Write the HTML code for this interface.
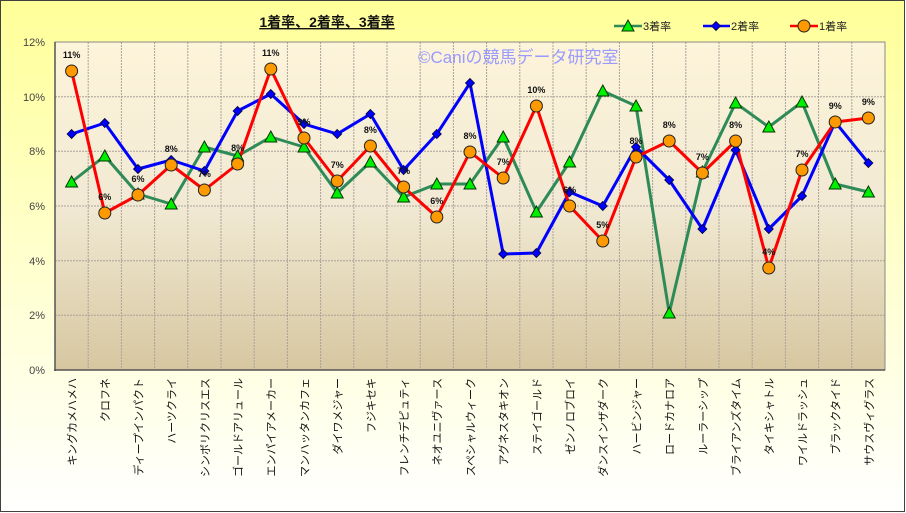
<!DOCTYPE html>
<html><head><meta charset="utf-8"><style>
body{margin:0;width:906px;height:513px;overflow:hidden;background:#fff}
svg{display:block;font-family:"Liberation Sans","Noto Sans CJK JP",sans-serif}
</style></head><body>
<svg width="906" height="513" viewBox="0 0 906 513">
<defs>
<linearGradient id="bg" x1="0" y1="0" x2="0" y2="1"><stop offset="0" stop-color="#fdf4da"/><stop offset="0.5" stop-color="#f1e9d3"/><stop offset="1" stop-color="#d6c7a0"/></linearGradient>
<linearGradient id="ob" x1="0" y1="0" x2="0" y2="1"><stop offset="0" stop-color="#ffff99"/><stop offset="0.45" stop-color="#ffffc8"/><stop offset="1" stop-color="#ffffff"/></linearGradient>
<circle id="c" r="6" fill="#ff9900" stroke="#222" stroke-width="1"/>
<path id="d" d="M0,-4.5 L4.5,0 L0,4.5 L-4.5,0Z" fill="#0000ff" stroke="#000033" stroke-width="0.8"/>
<path id="t" d="M0,-6 L6,5 L-6,5Z" fill="#00ee00" stroke="#003300" stroke-width="1"/>
</defs>
<rect x="0.5" y="0.5" width="904" height="511" fill="url(#ob)" stroke="#404040"/>
<rect x="55" y="42" width="830" height="328" fill="url(#bg)"/>
<g stroke="#aaa29a" stroke-width="1" stroke-dasharray="2,1">
<line x1="55" y1="96.7" x2="885" y2="96.7"/><line x1="55" y1="151.3" x2="885" y2="151.3"/><line x1="55" y1="206" x2="885" y2="206"/><line x1="55" y1="260.7" x2="885" y2="260.7"/><line x1="55" y1="315.3" x2="885" y2="315.3"/>
<line x1="88.2" y1="42" x2="88.2" y2="370"/><line x1="121.4" y1="42" x2="121.4" y2="370"/><line x1="154.6" y1="42" x2="154.6" y2="370"/><line x1="187.8" y1="42" x2="187.8" y2="370"/><line x1="221" y1="42" x2="221" y2="370"/><line x1="254.2" y1="42" x2="254.2" y2="370"/><line x1="287.4" y1="42" x2="287.4" y2="370"/><line x1="320.6" y1="42" x2="320.6" y2="370"/><line x1="353.8" y1="42" x2="353.8" y2="370"/><line x1="387" y1="42" x2="387" y2="370"/><line x1="420.2" y1="42" x2="420.2" y2="370"/><line x1="453.4" y1="42" x2="453.4" y2="370"/><line x1="486.6" y1="42" x2="486.6" y2="370"/><line x1="519.8" y1="42" x2="519.8" y2="370"/><line x1="553" y1="42" x2="553" y2="370"/><line x1="586.2" y1="42" x2="586.2" y2="370"/><line x1="619.4" y1="42" x2="619.4" y2="370"/><line x1="652.6" y1="42" x2="652.6" y2="370"/><line x1="685.8" y1="42" x2="685.8" y2="370"/><line x1="719" y1="42" x2="719" y2="370"/><line x1="752.2" y1="42" x2="752.2" y2="370"/><line x1="785.4" y1="42" x2="785.4" y2="370"/><line x1="818.6" y1="42" x2="818.6" y2="370"/><line x1="851.8" y1="42" x2="851.8" y2="370"/>
</g>
<rect x="55" y="42" width="830" height="328" fill="none" stroke="#888" stroke-width="1"/>
<line x1="55" y1="42" x2="55" y2="371" stroke="#555" stroke-width="1.5"/>
<line x1="54" y1="370" x2="885" y2="370" stroke="#555" stroke-width="1.5"/>
<g font-size="11" fill="#444" text-anchor="end">
<text x="45" y="46">12%</text><text x="45" y="101">10%</text><text x="45" y="155">8%</text><text x="45" y="210">6%</text><text x="45" y="265">4%</text><text x="45" y="319">2%</text><text x="45" y="374">0%</text>
</g>
<text x="327" y="27" font-size="14" font-weight="bold" text-anchor="middle" fill="#111" text-decoration="underline">1着率、2着率、3着率</text>
<text x="418" y="63" font-size="17" fill="#9a9aff">©Caniの競馬データ研究室</text>
<g font-size="11" fill="#222">
<line x1="614" y1="26" x2="642" y2="26" stroke="#2e8b57" stroke-width="2.5"/><use href="#t" x="628" y="26"/><text x="643" y="30">3着率</text>
<line x1="703" y1="26" x2="730" y2="26" stroke="#0000ff" stroke-width="2.5"/><use href="#d" x="716" y="26"/><text x="731" y="30">2着率</text>
<line x1="790" y1="26" x2="818" y2="26" stroke="#ff0000" stroke-width="2.5"/><use href="#c" x="804" y="26"/><text x="819" y="30">1着率</text>
</g>
<polyline fill="none" stroke="#2e8b57" stroke-width="3" stroke-linejoin="round" points="71.6,182 104.8,156 138,194 171.2,204 204.4,147 237.6,156 270.8,137 304,147 337.2,193 370.4,162 403.6,197 436.8,184 470,184 503.2,137 536.4,212 569.6,162 602.8,91 636,106 669.2,313 702.4,172 735.6,103 768.8,127 802,102 835.2,184 868.4,192"/>
<polyline fill="none" stroke="#0000ff" stroke-width="3" stroke-linejoin="round" points="71.6,134 104.8,123 138,169 171.2,160 204.4,171 237.6,111 270.8,94 304,124 337.2,134 370.4,114 403.6,170 436.8,134 470,83 503.2,254 536.4,253 569.6,192 602.8,206 636,147 669.2,180 702.4,229 735.6,150 768.8,229 802,196 835.2,122 868.4,163"/>
<polyline fill="none" stroke="#ff0000" stroke-width="3" stroke-linejoin="round" points="71.6,71 104.8,213 138,195 171.2,165 204.4,190 237.6,164 270.8,69 304,138 337.2,181 370.4,146 403.6,187 436.8,217 470,152 503.2,178 536.4,106 569.6,206 602.8,241 636,157 669.2,141 702.4,173 735.6,141 768.8,268 802,170 835.2,122 868.4,118"/>
<g>
<use href="#t" x="71.6" y="182"/><use href="#t" x="104.8" y="156"/><use href="#t" x="138" y="194"/><use href="#t" x="171.2" y="204"/><use href="#t" x="204.4" y="147"/><use href="#t" x="237.6" y="156"/><use href="#t" x="270.8" y="137"/><use href="#t" x="304" y="147"/><use href="#t" x="337.2" y="193"/><use href="#t" x="370.4" y="162"/><use href="#t" x="403.6" y="197"/><use href="#t" x="436.8" y="184"/><use href="#t" x="470" y="184"/><use href="#t" x="503.2" y="137"/><use href="#t" x="536.4" y="212"/><use href="#t" x="569.6" y="162"/><use href="#t" x="602.8" y="91"/><use href="#t" x="636" y="106"/><use href="#t" x="669.2" y="313"/><use href="#t" x="702.4" y="172"/><use href="#t" x="735.6" y="103"/><use href="#t" x="768.8" y="127"/><use href="#t" x="802" y="102"/><use href="#t" x="835.2" y="184"/><use href="#t" x="868.4" y="192"/>
</g>
<g>
<use href="#d" x="71.6" y="134"/><use href="#d" x="104.8" y="123"/><use href="#d" x="138" y="169"/><use href="#d" x="171.2" y="160"/><use href="#d" x="204.4" y="171"/><use href="#d" x="237.6" y="111"/><use href="#d" x="270.8" y="94"/><use href="#d" x="304" y="124"/><use href="#d" x="337.2" y="134"/><use href="#d" x="370.4" y="114"/><use href="#d" x="403.6" y="170"/><use href="#d" x="436.8" y="134"/><use href="#d" x="470" y="83"/><use href="#d" x="503.2" y="254"/><use href="#d" x="536.4" y="253"/><use href="#d" x="569.6" y="192"/><use href="#d" x="602.8" y="206"/><use href="#d" x="636" y="147"/><use href="#d" x="669.2" y="180"/><use href="#d" x="702.4" y="229"/><use href="#d" x="735.6" y="150"/><use href="#d" x="768.8" y="229"/><use href="#d" x="802" y="196"/><use href="#d" x="835.2" y="122"/><use href="#d" x="868.4" y="163"/>
</g>
<g>
<use href="#c" x="71.6" y="71"/><use href="#c" x="104.8" y="213"/><use href="#c" x="138" y="195"/><use href="#c" x="171.2" y="165"/><use href="#c" x="204.4" y="190"/><use href="#c" x="237.6" y="164"/><use href="#c" x="270.8" y="69"/><use href="#c" x="304" y="138"/><use href="#c" x="337.2" y="181"/><use href="#c" x="370.4" y="146"/><use href="#c" x="403.6" y="187"/><use href="#c" x="436.8" y="217"/><use href="#c" x="470" y="152"/><use href="#c" x="503.2" y="178"/><use href="#c" x="536.4" y="106"/><use href="#c" x="569.6" y="206"/><use href="#c" x="602.8" y="241"/><use href="#c" x="636" y="157"/><use href="#c" x="669.2" y="141"/><use href="#c" x="702.4" y="173"/><use href="#c" x="735.6" y="141"/><use href="#c" x="768.8" y="268"/><use href="#c" x="802" y="170"/><use href="#c" x="835.2" y="122"/><use href="#c" x="868.4" y="118"/>
</g>
<g font-size="9" font-weight="bold" fill="#111" text-anchor="middle">
<text x="71.6" y="58">11%</text><text x="104.8" y="200">6%</text><text x="138" y="182">6%</text><text x="171.2" y="152">8%</text><text x="204.4" y="177">7%</text><text x="237.6" y="151">8%</text><text x="270.8" y="56">11%</text><text x="304" y="125">9%</text><text x="337.2" y="168">7%</text><text x="370.4" y="133">8%</text><text x="403.6" y="174">7%</text><text x="436.8" y="204">6%</text><text x="470" y="139">8%</text><text x="503.2" y="165">7%</text><text x="536.4" y="93">10%</text><text x="569.6" y="193">6%</text><text x="602.8" y="228">5%</text><text x="636" y="144">8%</text><text x="669.2" y="128">8%</text><text x="702.4" y="160">7%</text><text x="735.6" y="128">8%</text><text x="768.8" y="255">4%</text><text x="802" y="157">7%</text><text x="835.2" y="109">9%</text><text x="868.4" y="105">9%</text>
</g>
<g font-size="11" fill="#111" text-anchor="end">
<text transform="translate(76,378) rotate(-90)">キングカメハメハ</text>
<text transform="translate(109.2,378) rotate(-90)">クロフネ</text>
<text transform="translate(142.4,378) rotate(-90)">ディープインパクト</text>
<text transform="translate(175.6,378) rotate(-90)">ハーツクライ</text>
<text transform="translate(208.8,378) rotate(-90)">シンボリクリスエス</text>
<text transform="translate(242,378) rotate(-90)">ゴールドアリュール</text>
<text transform="translate(275.2,378) rotate(-90)">エンパイアメーカー</text>
<text transform="translate(308.4,378) rotate(-90)">マンハッタンカフェ</text>
<text transform="translate(341.6,378) rotate(-90)">ダイワメジャー</text>
<text transform="translate(374.8,378) rotate(-90)">フジキセキ</text>
<text transform="translate(408,378) rotate(-90)">フレンチデピュティ</text>
<text transform="translate(441.2,378) rotate(-90)">ネオユニヴァース</text>
<text transform="translate(474.4,378) rotate(-90)">スペシャルウィーク</text>
<text transform="translate(507.6,378) rotate(-90)">アグネスタキオン</text>
<text transform="translate(540.8,378) rotate(-90)">ステイゴールド</text>
<text transform="translate(574,378) rotate(-90)">ゼンノロブロイ</text>
<text transform="translate(607.2,378) rotate(-90)">ダンスインザダーク</text>
<text transform="translate(640.4,378) rotate(-90)">ハービンジャー</text>
<text transform="translate(673.6,378) rotate(-90)">ロードカナロア</text>
<text transform="translate(706.8,378) rotate(-90)">ルーラーシップ</text>
<text transform="translate(740,378) rotate(-90)">ブライアンズタイム</text>
<text transform="translate(773.2,378) rotate(-90)">タイキシャトル</text>
<text transform="translate(806.4,378) rotate(-90)">ワイルドラッシュ</text>
<text transform="translate(839.6,378) rotate(-90)">ブラックタイド</text>
<text transform="translate(872.8,378) rotate(-90)">サウスヴィグラス</text>
</g>
</svg>
</body></html>
